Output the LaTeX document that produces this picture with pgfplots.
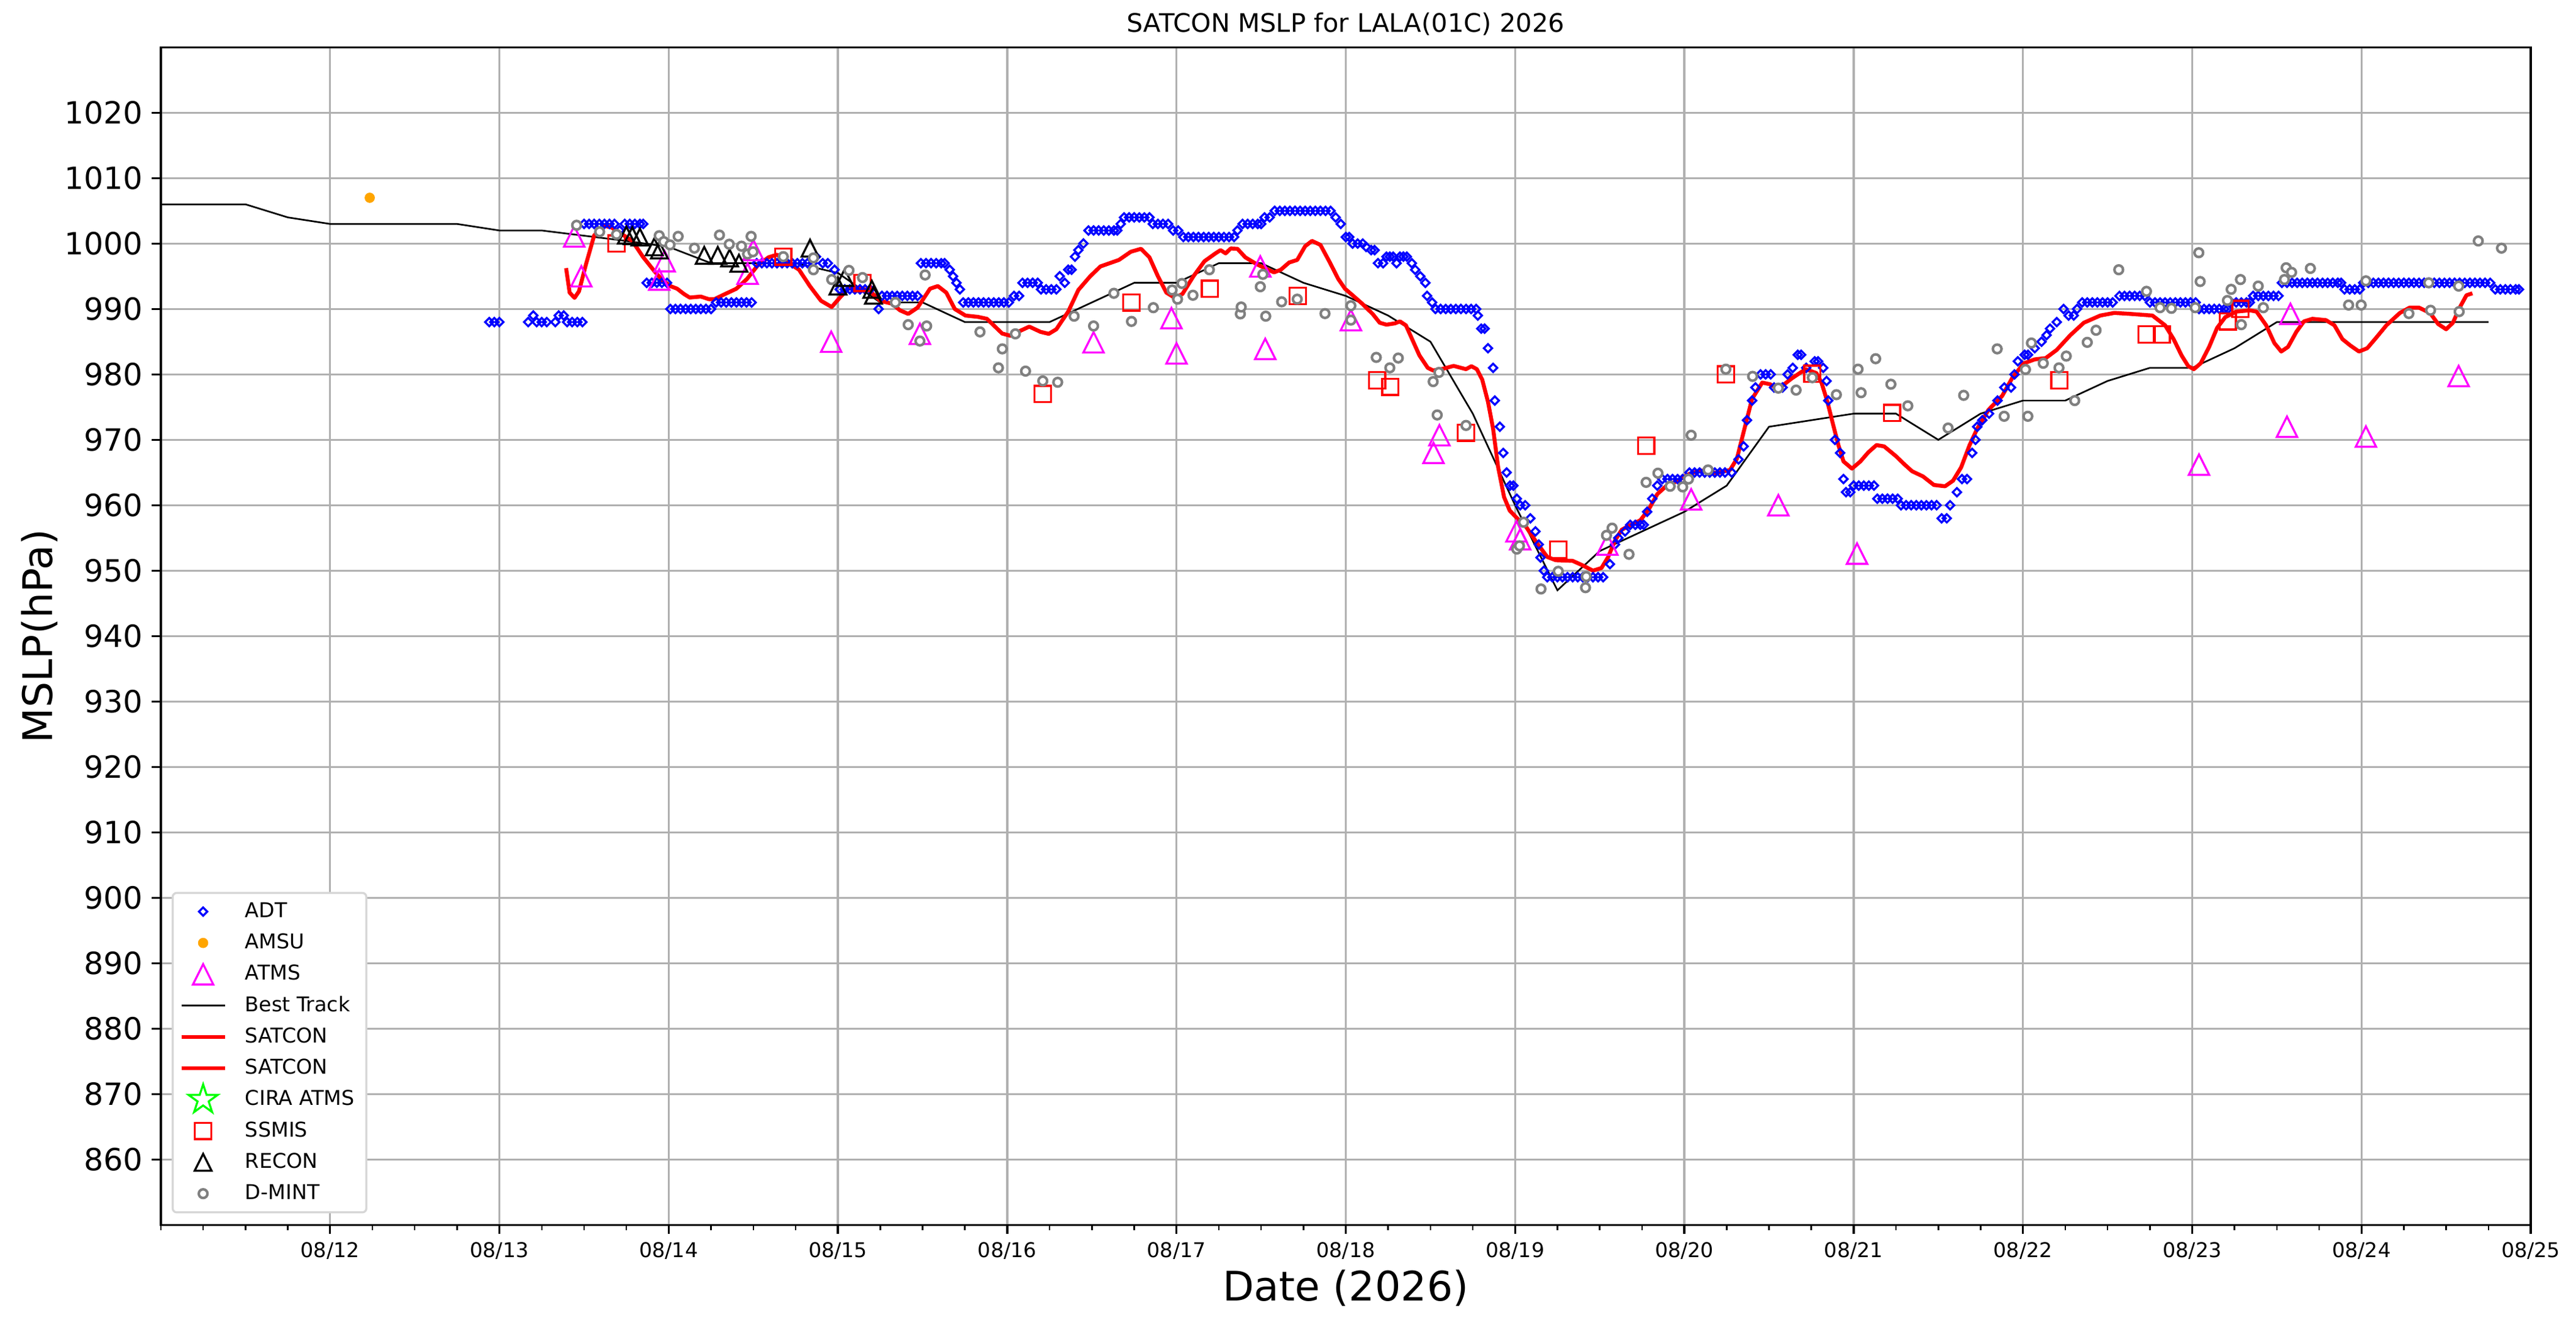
\documentclass[border=0pt]{standalone}
\usepackage{fontspec}
\setmainfont{DejaVu Sans}
\usepackage{pgfplots}
\pgfplotsset{compat=1.18}
\definecolor{adtblue}{RGB}{0,0,255}
\definecolor{amsuorange}{RGB}{255,165,0}
\definecolor{atmsmag}{RGB}{255,0,255}
\definecolor{satred}{RGB}{255,0,0}
\definecolor{ciragreen}{RGB}{0,255,0}
\definecolor{dmintgray}{RGB}{128,128,128}
\definecolor{gridgray}{RGB}{176,176,176}
\definecolor{legframe}{RGB}{214,214,214}
\pgfdeclareplotmark{mtri}{%
\pgfpathmoveto{\pgfqpoint{0pt}{\pgfplotmarksize}}%
\pgfpathlineto{\pgfqpoint{-\pgfplotmarksize}{-\pgfplotmarksize}}%
\pgfpathlineto{\pgfqpoint{\pgfplotmarksize}{-\pgfplotmarksize}}%
\pgfpathclose\pgfusepathqstroke}
\pgfdeclareplotmark{mstar}{%
\pgfpathmoveto{\pgfqpoint{0pt}{\pgfplotmarksize}}%
\pgfpathlineto{\pgfqpoint{-0.2245\pgfplotmarksize}{0.3090\pgfplotmarksize}}%
\pgfpathlineto{\pgfqpoint{-0.9511\pgfplotmarksize}{0.3090\pgfplotmarksize}}%
\pgfpathlineto{\pgfqpoint{-0.3633\pgfplotmarksize}{-0.1180\pgfplotmarksize}}%
\pgfpathlineto{\pgfqpoint{-0.5878\pgfplotmarksize}{-0.8090\pgfplotmarksize}}%
\pgfpathlineto{\pgfqpoint{0pt}{-0.382\pgfplotmarksize}}%
\pgfpathlineto{\pgfqpoint{0.5878\pgfplotmarksize}{-0.8090\pgfplotmarksize}}%
\pgfpathlineto{\pgfqpoint{0.3633\pgfplotmarksize}{-0.1180\pgfplotmarksize}}%
\pgfpathlineto{\pgfqpoint{0.9511\pgfplotmarksize}{0.3090\pgfplotmarksize}}%
\pgfpathlineto{\pgfqpoint{0.2245\pgfplotmarksize}{0.3090\pgfplotmarksize}}%
\pgfpathclose\pgfusepathqstroke}
\begin{document}
\begin{tikzpicture}
\begin{axis}[
  width=930pt, height=462.2pt, scale only axis,
  at={(0pt,0pt)}, anchor=south west,
  xmin=11, xmax=25, ymin=850, ymax=1030,
  xtick={12,13,14,15,16,17,18,19,20,21,22,23,24,25},
  xticklabels={08/12,08/13,08/14,08/15,08/16,08/17,08/18,08/19,08/20,08/21,08/22,08/23,08/24,08/25},
  minor xtick={11,11.25,...,25},
  ytick={860,870,...,1020},
  tick pos=left, tick align=outside,
  major tick length=3.5pt, minor tick length=2pt,
  tick style={black, line width=0.8pt},
  minor tick style={black, line width=0.6pt},
  axis line style={black, line width=0.8pt},
  grid=major,
  major grid style={gridgray, line width=0.8pt},
  /pgf/number format/assume math mode=true,
  /pgf/number format/1000 sep={},
  xticklabel style={font=\fontsize{8}{9.6}\selectfont, anchor=north, inner ysep=3.2pt},
  yticklabel style={font=\fontsize{12}{14.4}\selectfont, anchor=east, inner xsep=3.5pt},
  title={SATCON MSLP for LALA(01C) 2026},
  xlabel={Date (2026)},
  ylabel={MSLP(hPa)},
  every axis title/.style={at={([yshift=6pt]axis description cs:0.5,1)}, anchor=base, font=\fontsize{10}{12}\selectfont},
  every axis x label/.style={at={([yshift=-29.8pt]axis description cs:0.5,0)}, anchor=base, font=\fontsize{16}{19.2}\selectfont},
  every axis y label/.style={at={([xshift=-42.7pt]axis description cs:0,0.5)}, anchor=base, rotate=90, font=\fontsize{16}{19.2}\selectfont},
  legend cell align=left,
  legend style={at={(0.00457,0.00974)}, anchor=south west,
    draw=legframe, line width=0.8pt, rounded corners=1.6pt, fill=white,
    inner xsep=2.64pt, inner ysep=1.2pt, column sep=5.2pt, row sep=0pt,
    font=\fontsize{8}{9.6}\selectfont,
    nodes={inner xsep=2pt, inner ysep=1.9pt, text height=6.5pt, text depth=2pt, sharp corners}},
]
% ADT
\addplot[only marks, color=adtblue, mark=square, mark size=1.15pt, mark options={rotate=45, line width=0.8pt, sharp corners}] coordinates {
(12.94,988) (12.97,988) (13.00,988)
(13.17,988) (13.20,989) (13.22,988) (13.25,988) (13.28,988) (13.33,988) (13.35,989) (13.38,989) (13.40,988) (13.43,988) (13.46,988) (13.49,988)
(13.50,1003) (13.53,1003) (13.56,1003) (13.59,1003) (13.62,1003) (13.65,1003) (13.68,1003) (13.71,1002)
(13.74,1003) (13.77,1003) (13.80,1003) (13.83,1003) (13.85,1003)
(13.87,994) (13.90,994) (13.93,994) (13.96,994) (13.99,994)
(14.01,990) (14.04,990) (14.07,990) (14.10,990) (14.13,990) (14.16,990) (14.19,990) (14.22,990) (14.25,990)
(14.28,991) (14.31,991) (14.34,991) (14.37,991) (14.40,991) (14.43,991) (14.46,991) (14.49,991)
(14.52,997) (14.55,997) (14.58,997) (14.61,997) (14.64,997) (14.67,997) (14.70,997) (14.73,997) (14.76,997) (14.79,997) (14.82,997) (14.85,997) (14.87,998) (14.91,997) (14.94,997) (14.98,996)
(15.01,993) (15.04,993) (15.07,993) (15.10,993) (15.13,993) (15.16,993) (15.19,993)
(15.24,990) (15.26,992) (15.29,992) (15.32,992) (15.35,992) (15.38,992) (15.41,992) (15.44,992) (15.47,992)
(15.49,997) (15.52,997) (15.55,997) (15.58,997) (15.61,997) (15.63,997)
(15.66,996) (15.68,995) (15.70,994) (15.72,993)
(15.74,991) (15.77,991) (15.80,991) (15.83,991) (15.86,991) (15.89,991) (15.92,991) (15.95,991) (15.98,991) (16.01,991)
(16.04,992) (16.07,992)
(16.09,994) (16.12,994) (16.15,994) (16.18,994)
(16.20,993) (16.23,993) (16.26,993) (16.29,993)
(16.31,995) (16.34,994) (16.36,996) (16.38,996) (16.40,998) (16.42,999) (16.45,1000)
(16.48,1002) (16.51,1002) (16.54,1002) (16.57,1002) (16.60,1002) (16.63,1002) (16.65,1002)
(16.67,1003)
(16.69,1004) (16.72,1004) (16.75,1004) (16.78,1004) (16.81,1004) (16.84,1004)
(16.86,1003) (16.89,1003) (16.92,1003) (16.95,1003)
(16.98,1002) (17.01,1002)
(17.04,1001) (17.07,1001) (17.10,1001) (17.13,1001) (17.16,1001) (17.19,1001) (17.22,1001) (17.25,1001) (17.28,1001) (17.31,1001) (17.34,1001)
(17.36,1002) (17.39,1003) (17.42,1003) (17.45,1003) (17.48,1003) (17.50,1003) (17.52,1004) (17.55,1004)
(17.58,1005) (17.61,1005) (17.64,1005) (17.67,1005) (17.70,1005) (17.73,1005) (17.76,1005) (17.79,1005) (17.82,1005) (17.85,1005) (17.88,1005) (17.91,1005)
(17.94,1004) (17.97,1003) (18.00,1001) (18.02,1001) (18.04,1000) (18.07,1000) (18.10,1000) (18.12,999.5) (18.15,999) (18.17,999) (18.19,997) (18.22,997) (18.24,998) (18.26,998) (18.28,998) (18.30,997) (18.32,998) (18.34,998) (18.36,998) (18.39,997) (18.41,996) (18.44,995) (18.47,994) (18.48,992) (18.51,991)
(18.53,990) (18.56,990) (18.59,990) (18.62,990) (18.65,990) (18.68,990) (18.71,990) (18.74,990) (18.77,990)
(18.78,989) (18.80,987) (18.82,987) (18.84,984) (18.87,981) (18.88,976) (18.91,972) (18.93,968) (18.95,965) (18.97,963) (18.99,963) (19.01,961) (19.03,960) (19.06,960) (19.09,958) (19.12,956) (19.14,954) (19.15,952) (19.17,950)
(19.19,949) (19.22,949) (19.25,949) (19.28,949) (19.31,949) (19.34,949) (19.37,949) (19.40,949) (19.43,949) (19.46,949) (19.49,949) (19.52,949)
(19.56,951) (19.59,954) (19.61,955) (19.65,956) (19.68,957) (19.71,957) (19.74,957) (19.76,957) (19.78,959) (19.81,961) (19.84,963)
(19.87,964) (19.90,964) (19.93,964) (19.96,964) (19.99,964)
(20.03,965) (20.06,965) (20.09,965) (20.12,965) (20.15,965) (20.18,965) (20.21,965) (20.24,965) (20.28,965)
(20.32,967) (20.35,969) (20.37,973) (20.40,976) (20.42,978) (20.45,980) (20.48,980) (20.51,980) (20.53,978) (20.58,978) (20.61,980) (20.64,981) (20.67,983) (20.69,983) (20.72,981) (20.77,982) (20.79,982) (20.82,981) (20.84,979) (20.85,976) (20.89,970) (20.92,968) (20.94,964) (20.955,962) (20.98,962)
(21.00,963) (21.03,963) (21.06,963) (21.09,963) (21.12,963)
(21.14,961) (21.17,961) (21.20,961) (21.23,961) (21.26,961)
(21.28,960) (21.31,960) (21.34,960) (21.37,960) (21.40,960) (21.43,960) (21.46,960) (21.49,960)
(21.52,958) (21.55,958) (21.57,960) (21.61,962) (21.64,964) (21.67,964) (21.70,968) (21.72,970) (21.73,972) (21.76,973) (21.80,974) (21.85,976) (21.89,978) (21.93,978) (21.95,980) (21.97,982) (22.01,983) (22.03,983) (22.07,984) (22.11,985) (22.14,986) (22.16,987) (22.20,988) (22.24,990) (22.27,989) (22.30,989) (22.32,990)
(22.35,991) (22.38,991) (22.41,991) (22.44,991) (22.47,991) (22.50,991) (22.53,991)
(22.57,992) (22.60,992) (22.63,992) (22.66,992) (22.69,992) (22.72,992)
(22.75,991) (22.78,991) (22.81,991) (22.84,991) (22.87,991) (22.90,991) (22.93,991) (22.96,991) (22.99,991) (23.02,991)
(23.04,990) (23.07,990) (23.10,990) (23.13,990) (23.16,990) (23.19,990) (23.21,990)
(23.23,991) (23.26,991) (23.29,991) (23.32,991) (23.34,991)
(23.36,992) (23.39,992) (23.42,992) (23.45,992) (23.48,992) (23.51,992)
(23.53,994) (23.56,994) (23.59,994) (23.62,994) (23.65,994) (23.68,994) (23.71,994) (23.74,994) (23.77,994) (23.80,994) (23.83,994) (23.86,994) (23.88,994)
(23.90,993) (23.93,993) (23.96,993) (23.99,993)
(24.01,994) (24.04,994) (24.07,994) (24.10,994) (24.13,994) (24.16,994) (24.19,994) (24.22,994) (24.25,994) (24.28,994) (24.31,994) (24.34,994) (24.37,994) (24.40,994) (24.43,994) (24.46,994) (24.49,994) (24.52,994) (24.55,994) (24.58,994) (24.61,994) (24.64,994) (24.67,994) (24.70,994) (24.73,994) (24.76,994)
(24.79,993) (24.82,993) (24.85,993) (24.88,993) (24.91,993) (24.93,993)
};
\addlegendentry{ADT}
% AMSU
\addplot[only marks, color=amsuorange, mark=*, mark size=1.9pt, mark options={line width=0.2pt, sharp corners}] coordinates {(12.234,1007)};
\addlegendentry{AMSU}
% ATMS
\addplot[only marks, color=atmsmag, mark=mtri, mark size=4pt, mark options={line width=0.8pt, sharp corners}] coordinates {
(13.442,1001.1) (13.484,995.0) (13.944,994.5) (13.976,997.3) (14.466,995.4) (14.50,999.0) (14.96,985.0) (15.484,986.2) (16.51,984.9) (16.97,988.6) (17.0,983.2) (17.495,996.5) (17.524,983.9) (18.03,988.3) (18.518,968.0) (18.553,970.7) (19.008,956.0) (19.03,954.8) (19.545,954.0) (20.04,960.9) (20.555,960.0) (21.02,952.6) (23.04,966.2) (23.56,972.0) (23.58,989.25) (24.026,970.5) (24.574,979.75)
};
\addlegendentry{ATMS}
% Best Track
\addplot[black, line width=0.65pt, no marks, sharp corners] coordinates {
(11.0,1006) (11.25,1006) (11.5,1006) (11.75,1004) (12.0,1003) (12.25,1003) (12.5,1003) (12.75,1003) (13.0,1002) (13.25,1002) (13.5,1001.2) (13.75,1000.4) (14.0,999.5) (14.25,997) (14.5,997) (14.75,997) (15.0,995.5) (15.25,991) (15.5,991) (15.75,988) (16.0,988) (16.25,988) (16.5,991) (16.75,994) (17.0,994) (17.25,997) (17.5,997) (17.75,994) (18.0,992) (18.25,989) (18.5,985) (18.75,974) (19.0,960) (19.25,947) (19.5,953) (19.75,956) (20.0,959) (20.25,963) (20.5,972) (20.75,973) (21.0,974) (21.25,974) (21.5,970) (21.75,974) (22.0,976) (22.25,976) (22.5,979) (22.75,981) (23.0,981) (23.25,984) (23.5,988) (23.75,988) (24.0,988) (24.25,988) (24.5,988) (24.75,988)
};
\addlegendentry{Best Track}
% SATCON
\addplot[satred, line width=1.55pt, no marks, line join=round, sharp corners] coordinates {
(13.394,996.25) (13.415,992.5) (13.444,991.7) (13.47,992.7) (13.51,996.7) (13.56,1001.25) (13.62,1002.7) (13.66,1002.5) (13.72,1001.5) (13.785,1000.4) (13.85,997.9) (13.915,995.8) (13.963,994.4) (14.01,993.5) (14.05,993.1) (14.09,992.3) (14.124,991.75) (14.19,991.9) (14.237,991.5) (14.27,991.5) (14.334,992.3) (14.4,993.1) (14.463,994.6) (14.527,996.7) (14.59,997.9) (14.64,998.3) (14.705,997.1) (14.77,996.0) (14.834,993.5) (14.9,991.25) (14.963,990.3) (15.01,991.7) (15.06,993.1) (15.124,993.3) (15.19,992.7) (15.25,991.25) (15.32,990.8) (15.366,989.8) (15.415,989.25) (15.47,990.2) (15.544,993.1) (15.59,993.5) (15.64,992.5) (15.69,990.0) (15.753,989.0) (15.826,988.8) (15.88,988.5) (15.92,987.5) (15.97,986.25) (16.02,985.9) (16.08,986.7) (16.13,987.3) (16.197,986.5) (16.245,986.2) (16.29,986.9) (16.36,989.6) (16.42,992.9) (16.49,995.0) (16.55,996.5) (16.616,997.1) (16.66,997.5) (16.73,998.75) (16.79,999.2) (16.84,997.9) (16.89,995.0) (16.94,992.5) (16.99,991.7) (17.035,992.3) (17.1,995.0) (17.165,997.3) (17.23,998.5) (17.26,999.0) (17.29,998.5) (17.32,999.25) (17.36,999.2) (17.406,997.9) (17.47,996.9) (17.52,996.25) (17.576,995.6) (17.616,996.0) (17.665,997.1) (17.713,997.5) (17.76,999.6) (17.8,1000.4) (17.85,999.8) (17.906,997.1) (17.955,994.6) (17.995,993.1) (18.04,992.1) (18.097,990.8) (18.16,989.2) (18.2,987.9) (18.24,987.6) (18.29,987.8) (18.32,988.1) (18.355,987.5) (18.395,985.2) (18.435,982.9) (18.484,981.0) (18.516,980.6) (18.565,980.8) (18.637,981.3) (18.71,980.8) (18.742,981.25) (18.774,980.8) (18.806,979.2) (18.84,975.8) (18.87,971.7) (18.9,965.8) (18.935,961.25) (18.968,959.2) (19.016,957.9) (19.065,956.7) (19.13,954.2) (19.19,952.1) (19.24,951.6) (19.34,951.5) (19.4,950.8) (19.46,950.0) (19.51,950.4) (19.55,952.1) (19.59,954.6) (19.63,956.25) (19.69,957.1) (19.74,957.7) (19.79,959.4) (19.84,961.7) (19.9,963.1) (19.95,963.6) (20.03,964.8) (20.1,965.3) (20.19,964.9) (20.27,965.4) (20.31,967.1) (20.355,971.7) (20.4,976.25) (20.46,978.75) (20.506,978.5) (20.555,977.8) (20.635,979.4) (20.716,980.8) (20.78,980.2) (20.81,978.75) (20.845,975.8) (20.877,972.5) (20.91,969.2) (20.94,966.7) (20.99,965.6) (21.04,966.7) (21.087,968.1) (21.135,969.2) (21.18,969.0) (21.25,967.5) (21.3,966.25) (21.345,965.2) (21.41,964.4) (21.474,963.1) (21.54,962.9) (21.587,963.75) (21.635,965.8) (21.685,969.2) (21.73,971.7) (21.797,974.6) (21.877,976.7) (21.94,979.6) (22.006,981.7) (22.07,982.3) (22.135,982.5) (22.2,983.75) (22.28,986.0) (22.36,987.9) (22.457,989.0) (22.54,989.4) (22.635,989.25) (22.765,989.0) (22.84,987.5) (22.89,985.4) (22.937,982.9) (22.977,981.25) (23.01,980.8) (23.05,981.7) (23.1,984.2) (23.147,987.1) (23.195,988.75) (23.26,989.6) (23.34,989.8) (23.38,989.6) (23.437,987.5) (23.485,984.8) (23.526,983.5) (23.566,984.2) (23.615,986.5) (23.66,988.1) (23.71,988.5) (23.79,988.3) (23.84,987.5) (23.887,985.4) (23.935,984.4) (23.985,983.5) (24.034,984.0) (24.08,985.4) (24.147,987.5) (24.227,989.4) (24.284,990.2) (24.34,990.2) (24.405,989.4) (24.453,987.7) (24.5,986.9) (24.54,987.9) (24.58,990.2) (24.62,992.1) (24.655,992.4)
};
\addlegendentry{SATCON}
\addlegendimage{satred, line width=1.55pt, no marks, sharp corners}
\addlegendentry{SATCON}
\addlegendimage{only marks, color=ciragreen, mark=mstar, mark size=6pt, mark options={line width=0.8pt, sharp corners}}
\addlegendentry{CIRA ATMS}
% SSMIS
\addplot[only marks, color=satred, mark=square, mark size=3.2pt, mark options={line width=0.8pt, sharp corners}] coordinates {
(13.692,1000.0) (14.677,998.0) (15.145,994.0) (16.21,977.0) (16.734,991.0) (17.197,993.1) (17.716,992.0) (18.185,979.1) (18.263,978.1) (18.71,971.1) (19.255,953.2) (19.774,969.1) (20.245,980.0) (20.756,980.1) (21.227,974.1) (22.216,979.1) (22.73,986.1) (22.82,986.1) (23.21,988.1) (23.285,990.0)
};
\addlegendentry{SSMIS}
% RECON
\addplot[only marks, color=black, mark=mtri, mark size=3.3pt, mark options={line width=0.8pt, sharp corners}] coordinates {
(13.75,1001.3) (13.785,1001.2) (13.83,1001.0) (13.915,999.5) (13.945,999.0) (14.21,998.2) (14.29,998.2) (14.36,997.8) (14.415,997.0) (14.835,999.3) (15.0,993.5) (15.04,994.8) (15.20,993.0) (15.21,992.1)
};
\addlegendentry{RECON}
% D-MINT
\addplot[only marks, color=dmintgray, mark=*, mark size=1.7pt, mark options={draw=dmintgray, fill=white, line width=1pt}] coordinates {
(13.456,1002.8) (13.592,1001.8) (13.692,1001.4) (13.944,1001.2) (13.971,1000.3) (14.008,999.8) (14.056,1001.1) (14.152,999.3) (14.30,1001.3) (14.358,999.9) (14.43,999.6) (14.487,1001.1) (14.466,998.4) (14.498,998.75) (14.677,998.0) (14.855,997.8) (14.855,996.0) (14.963,994.5) (15.065,995.9) (15.145,994.8) (15.339,991.0) (15.415,987.6) (15.484,985.1) (15.524,987.4) (15.515,995.2) (15.839,986.5) (15.971,983.9) (15.948,981.0) (16.048,986.2) (16.108,980.5) (16.21,979.0) (16.298,978.8) (16.395,988.9) (16.51,987.4) (16.63,992.4) (16.734,988.1) (16.863,990.2) (16.974,992.9) (17.032,993.9) (17.006,991.5) (17.097,992.1) (17.194,996.0) (17.377,989.25) (17.382,990.3) (17.495,993.4) (17.51,995.3) (17.527,988.9) (17.621,991.1) (17.713,991.5) (17.877,989.3) (18.03,990.5) (18.03,988.3) (18.18,982.6) (18.26,981.0) (18.31,982.5) (18.516,978.9) (18.55,980.3) (18.54,973.8) (18.71,972.2) (19.05,957.4) (19.01,953.3) (19.026,953.8) (19.153,947.2) (19.255,949.9) (19.42,949.1) (19.416,947.4) (19.54,955.4) (19.573,956.5) (19.673,952.5) (19.774,963.5) (19.844,964.9) (19.916,962.9) (19.99,962.8) (20.024,964.0) (20.04,970.7) (20.14,965.4) (20.245,980.8) (20.403,979.7) (20.555,977.9) (20.66,977.6) (20.756,979.5) (20.898,976.9) (21.026,980.8) (21.044,977.2) (21.13,982.4) (21.22,978.5) (21.32,975.2) (21.558,971.8) (21.65,976.8) (21.848,983.9) (21.889,973.6) (22.015,980.75) (22.029,973.6) (22.05,984.8) (22.12,981.7) (22.213,981.0) (22.256,982.8) (22.306,976.0) (22.38,984.9) (22.432,986.75) (22.566,996.0) (22.73,992.7) (22.81,990.2) (22.877,990.1) (23.018,990.2) (23.039,998.6) (23.047,994.2) (23.208,991.3) (23.23,993.0) (23.285,994.5) (23.29,987.6) (23.39,993.5) (23.42,990.2) (23.545,994.5) (23.555,996.3) (23.587,995.6) (23.698,996.2) (23.924,990.6) (23.998,990.6) (24.026,994.3) (24.28,989.3) (24.397,994.0) (24.408,989.8) (24.574,993.5) (24.577,989.6) (24.69,1000.4) (24.827,999.3)
};
\addlegendentry{D-MINT}
\end{axis}
\pgfresetboundingbox
\path[use as bounding box] ([xshift=-63.12pt,yshift=-39.07pt]current axis.south west) rectangle ([xshift=17.76pt,yshift=18.57pt]current axis.north east);
\end{tikzpicture}
\end{document}
